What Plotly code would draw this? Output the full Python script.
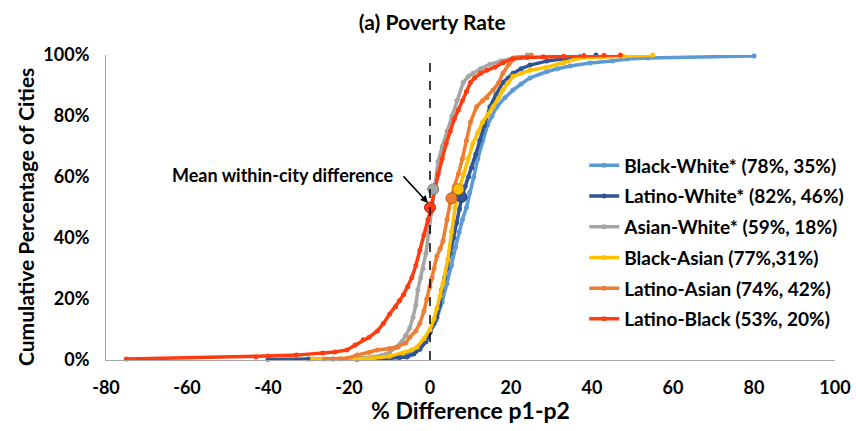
import plotly.graph_objects as go

# ---- data ----
series_names = [
    "Black-White* (78%, 35%)",
    "Latino-White* (82%, 46%)",
    "Asian-White* (59%, 18%)",
    "Black-Asian (77%,31%)",
    "Latino-Asian (74%, 42%)",
    "Latino-Black (53%, 20%)",
]
colors = ["#5B9BD5", "#2F5597", "#A5A5A5", "#FFC000", "#ED7D31", "#FF3C0F"]
edge_colors = ["#3E6F9E", "#1F3B6B", "#7A7A7A", "#B38600", "#B05A1E", "#B02A0A"]

bw_x = [-18, -12, -8, -5, -3, -1.5, 0, 1.5, 3, 4.2, 5.3, 6.3, 7.2, 8, 9, 9.8, 10.8, 11.8, 13, 14.2,
        15.3, 16.5, 18.5, 20.5, 22.5, 24.7, 28.8, 31.4, 34.6, 39.5, 45, 48.6, 53.8, 80]
bw_y = [0.2, 0.4, 1, 2, 4, 6, 9, 13, 19, 25, 31, 37, 42, 46, 50, 55, 60, 66, 72, 77,
        80, 83, 86, 88.5, 90.5, 92.5, 94.5, 95.5, 96.4, 97.4, 98, 98.7, 99, 99.7]

lw_x = [-40, -30, -24, -18, -14, -10, -7.5, -5.7, -4, -2.5, -1, 0, 1, 1.7, 2.4, 2.9, 3.6, 4.2, 5, 5.8,
        6.6, 7.3, 7.9, 8.7, 9.5, 10.3, 11.3, 12.3, 13.5, 14.8, 16.3, 18, 19.3, 20.5, 22.5, 24.7, 28.8,
        33, 37, 41]
lw_y = [0.2, 0.3, 0.3, 0.4, 0.5, 0.6, 0.8, 1, 2, 3.5, 6, 9, 12, 14, 18, 23, 27, 30, 35, 40,
        45, 49.5, 53.6, 57, 60, 63, 67.5, 72, 77, 83, 87, 91, 92.5, 94, 95.5, 96.7, 98,
        98.8, 99.4, 100]

aw_x = [-22, -17, -14, -12, -10, -8.5, -7, -6, -5, -4.2, -3.5, -3, -2.3, -1.7, -1, -0.3, 0.3, 1, 2, 3,
        4.2, 5.4, 6.6, 8.2, 9.5, 10.6, 12.5, 14.8, 17.5, 20.5, 24]
aw_y = [0.3, 0.6, 1, 1.5, 2.5, 4, 6, 8, 10.5, 14, 18, 23, 27, 30, 35, 42, 48, 57, 65, 70,
        75, 80, 85, 91, 93, 94, 95.5, 97, 98, 99, 100]

ba_x = [-29, -22, -18, -14, -10, -6.7, -4.5, -3.2, -1.5, 0, 1, 1.7, 2.5, 3.2, 4.4, 5.3, 6.2, 7.2, 8.3,
        9.4, 10.6, 11.8, 13, 14.3, 15.6, 17, 18, 19.3, 20.5, 22.5, 24.7, 28.8, 33, 37, 42, 47.7, 55]
ba_y = [0.3, 0.4, 0.5, 0.6, 1.2, 2.3, 3.3, 4.3, 7, 10, 13.5, 17, 21, 25, 33, 42, 50, 56, 61,
        66, 71, 74.5, 78, 80.5, 83, 86, 88.5, 91, 93, 94, 95, 96, 97.5, 99, 99.3, 99.6, 100]

la_x = [-26, -20.5, -18, -15, -13, -10, -8, -6, -5, -3.5, -2.5, -1.5, -0.8, 0, 0.5, 1, 1.7, 2.5, 3.2,
        4.2, 5.2, 6, 7, 8, 9, 10, 11.5, 13, 14, 15.6, 17, 18, 19.5, 21, 25]
la_y = [0.3, 0.6, 1.6, 2.5, 3.3, 3.8, 4.3, 5.5, 7.5, 9.5, 12, 16, 20, 24, 27, 30, 34, 36.5, 39,
        46, 53, 57, 61, 66, 72, 78, 83, 85, 86, 88.5, 91, 94, 97, 99, 100]

lb_x = [-75, -43, -40, -33, -26.5, -23.5, -20.5, -18.5, -16.5, -15, -13, -11.5, -10, -8.5, -7.5, -6.5,
        -5.5, -4.5, -3.5, -2.5, -1.5, -0.5, 0.3, 1, 2, 3, 4, 5, 6, 7, 8, 9, 10, 11, 12.5, 14, 16, 18,
        20.5, 24, 28, 33, 38, 43, 47]
lb_y = [0.3, 1, 1.3, 1.6, 2.3, 2.6, 3.3, 4.9, 6.6, 7.5, 9.5, 12, 15, 17.5, 19.5, 21.5,
        24, 27, 31, 36, 41, 46, 50, 55, 61, 66, 71, 75, 79, 82, 85, 88, 91, 92.5, 94, 95, 96, 97.5,
        98.8, 99.2, 99.4, 99.6, 99.8, 99.9, 100]

series_x = [bw_x, lw_x, aw_x, ba_x, la_x, lb_x]
series_y = [bw_y, lw_y, aw_y, ba_y, la_y, lb_y]

# mean within-city difference markers (series index, x, y)
mean_idx = [1, 2, 3, 4, 5]
mean_x = [7.8, 0.8, 7.0, 5.3, 0.0]
mean_y = [53.5, 56, 56, 53, 50]

x_ticks = [-80, -60, -40, -20, 0, 20, 40, 60, 80, 100]
y_ticks = [0, 20, 40, 60, 80, 100]

FONT = "Lato"
L, R, T, B = 106, 21, 55, 71
W, H = 856, 431
PW, PH = W - L - R, H - B - T


def px_to_paper(xp, yp):
    return (xp - L) / PW, (H - B - yp) / PH


fig = go.Figure()
for i, name in enumerate(series_names):
    fig.add_trace(go.Scatter(
        x=series_x[i], y=series_y[i], mode="lines+markers", name=name,
        line=dict(color=colors[i], width=3.5),
        marker=dict(color=colors[i], size=5),
        legendgroup=f"g{i}", cliponaxis=False,
    ))

for k, i in enumerate(mean_idx):
    fig.add_trace(go.Scatter(
        x=[mean_x[k]], y=[mean_y[k]], mode="markers", showlegend=False,
        marker=dict(color=colors[i], size=11, line=dict(color=edge_colors[i], width=1)),
        cliponaxis=False,
    ))

fig.add_shape(type="line", x0=0, x1=0, y0=0, y1=97.5, xref="x", yref="y",
              line=dict(color="black", width=1.5, dash="dash"))

fig.add_annotation(x=-0.5, y=51.5, ax=-6.9, ay=60.7, xref="x", yref="y", axref="x", ayref="y",
                   showarrow=True, arrowhead=2, arrowsize=1, arrowwidth=1.5, arrowcolor="black", text="")
fig.add_annotation(x=-36.3, y=60.7, xref="x", yref="y", showarrow=False,
                   xanchor="center", yanchor="middle",
                   text="Mean within-city difference",
                   font=dict(family=FONT, size=18, color="black", weight="bold"))
fig.add_annotation(x=-55.5, y=103.3, xref="x", yref="y", showarrow=False,
                   xanchor="center", yanchor="middle",
                   text="p<sub>1</sub> better",
                   font=dict(family=FONT, size=19, color="black", weight="bold"))
fig.add_annotation(x=58.8, y=104.3, xref="x", yref="y", showarrow=False,
                   xanchor="center", yanchor="middle",
                   text="p<sub>2</sub> better",
                   font=dict(family=FONT, size=19, color="black", weight="bold"))
# y-axis title
yx, yy = px_to_paper(25, 217)
fig.add_annotation(x=yx, y=yy, xref="paper", yref="paper", showarrow=False, textangle=-90,
                   xanchor="center", yanchor="middle",
                   text="Cumulative Percentage of Cities",
                   font=dict(family=FONT, size=21, color="black", weight="bold"))
# x-axis title
xx, xy = px_to_paper(470, 410)
fig.add_annotation(x=xx, y=xy, xref="paper", yref="paper", showarrow=False,
                   xanchor="center", yanchor="middle",
                   text="% Difference p1-p2",
                   font=dict(family=FONT, size=23, color="black", weight="bold"))

fig.update_layout(
    width=W, height=H,
    margin=dict(l=L, r=R, t=T, b=B, autoexpand=False),
    paper_bgcolor="white", plot_bgcolor="white",
    font=dict(family=FONT, color="black"),
    title=dict(text="(a) Poverty Rate", x=0.505, xanchor="center", y=0.947, yanchor="middle",
               font=dict(family=FONT, size=21, color="black", weight="bold")),
    legend=dict(x=0.656, y=0.70, xanchor="left", yanchor="top", bgcolor="rgba(0,0,0,0)",
                font=dict(family=FONT, size=19, color="black", weight="bold"),
                tracegroupgap=3, itemwidth=30),
    showlegend=True,
)

fig.update_xaxes(range=[-80, 100], tickvals=x_ticks, ticktext=[str(v) for v in x_ticks],
                 showline=True, linecolor="#A6A6A6", linewidth=1, showgrid=False, zeroline=False,
                 ticks="outside", ticklen=11, tickcolor="white", automargin=False,
                 tickfont=dict(family=FONT, size=18, color="black", weight="bold"))
fig.update_yaxes(range=[0, 100], tickvals=y_ticks, ticktext=[f"{v}%" for v in y_ticks],
                 showline=True, linecolor="#A6A6A6", linewidth=1, showgrid=False, zeroline=False,
                 ticks="outside", ticklen=12, tickcolor="white", automargin=False,
                 tickfont=dict(family=FONT, size=18, color="black", weight="bold"))

fig.write_html("out.html")
